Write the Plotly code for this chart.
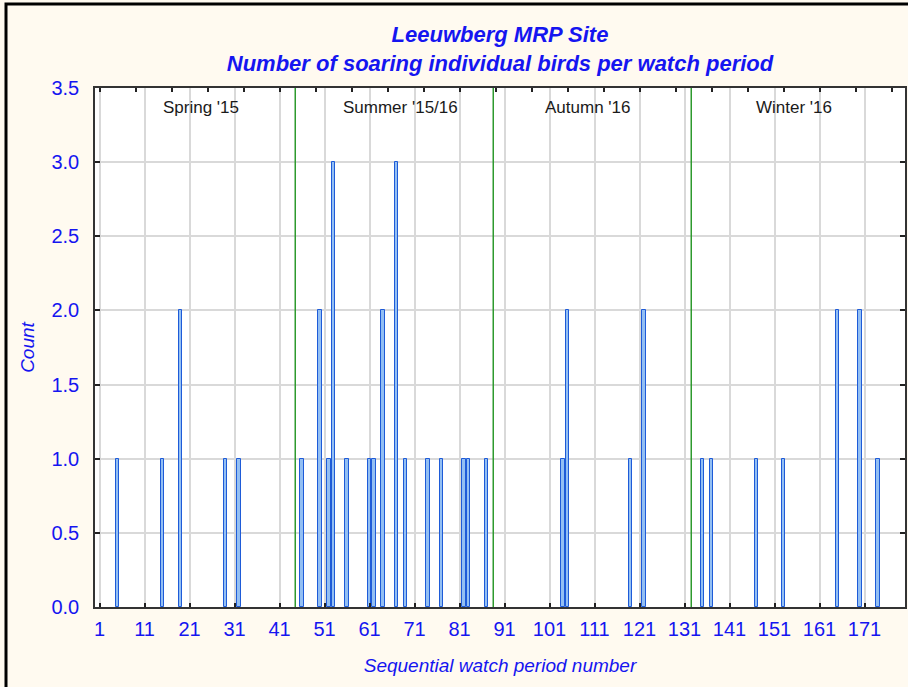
import plotly.graph_objects as go

# ---- data ----
periods = [5, 15, 19, 29, 32, 46, 50, 52, 53, 56, 61, 62, 64, 67, 69, 74, 77, 82, 83, 87,
           104, 105, 119, 122, 135, 137, 147, 153, 165, 170, 174]
counts = [1, 1, 2, 1, 1, 1, 2, 1, 3, 1, 1, 1, 2, 3, 1, 1, 1, 1, 1, 1,
          1, 2, 1, 2, 1, 1, 1, 1, 2, 2, 1]

season_names = ["Spring '15", "Summer '15/16", "Autumn '16", "Winter '16"]
season_label_x = [23.5, 67.8, 109.5, 155.4]
season_bounds = [44.5, 88.5, 132.5]

x_tick_labels = ["1", "11", "21", "31", "41", "51", "61", "71", "81", "91", "101", "111",
                 "121", "131", "141", "151", "161", "171"]
y_tick_values = [0.0, 0.5, 1.0, 1.5, 2.0, 2.5, 3.0, 3.5]

title_lines = ["Leeuwberg MRP Site", "Number of soaring individual birds per watch period"]
x_title = "Sequential watch period number"
y_title = "Count"

# ---- style ----
BLUE = "#1515F0"
BG = "#FFFAF0"
FONT = "Arial, Liberation Sans, sans-serif"
W, H = 908, 687
ML, MR, MT, MB = 95, 3, 88, 80
plot_w = W - ML - MR
plot_h = H - MT - MB

fig = go.Figure()
fig.add_trace(go.Bar(
    x=periods, y=counts, width=0.88,
    marker=dict(color="#93BFF3", line=dict(color="#1E5BD8", width=1)),
    showlegend=False,
))

# invisible trace to carry the top axis ticks
fig.add_trace(go.Scatter(x=[0, 180], y=[0, 0], xaxis="x2", mode="markers",
                         marker=dict(opacity=0), showlegend=False, hoverinfo="skip"))

shapes = []
for b in season_bounds:
    shapes.append(dict(type="line", xref="x", yref="paper", x0=b, x1=b, y0=0, y1=1,
                       line=dict(color="#2E9A2E", width=1.5), layer="above"))

# outer frame (left and top edges visible, the rest runs off the image)
fx0 = (6 - ML) / plot_w
fy1 = (H - MB - 4) / plot_h
shapes.append(dict(type="rect", xref="paper", yref="paper", x0=fx0, x1=1.2, y0=-0.5, y1=fy1,
                   line=dict(color="#000000", width=3), fillcolor="rgba(0,0,0,0)", layer="below"))

annotations = []
for name, xpos in zip(season_names, season_label_x):
    annotations.append(dict(x=xpos, y=3.37, xref="x", yref="y", text=name, showarrow=False,
                            font=dict(family=FONT, size=17, color="#1a1a1a")))

fig.update_layout(
    width=W, height=H,
    margin=dict(l=ML, r=MR, t=MT, b=MB, autoexpand=False),
    paper_bgcolor=BG,
    plot_bgcolor="#FFFFFF",
    bargap=0,
    title=dict(text="<b><i>" + title_lines[0] + "<br>" + title_lines[1] + "</i></b>",
               x=(ML + plot_w / 2) / W, xanchor="center", y=1 - 42 / H, yanchor="top",
               automargin=False,
               font=dict(family=FONT, size=22, color=BLUE)),
    xaxis=dict(
        range=[0, 180], automargin=False,
        tickvals=[int(t) for t in x_tick_labels], ticktext=x_tick_labels,
        ticks="inside", ticklen=4, tickcolor="#222", tickwidth=1.5,
        showgrid=True, gridcolor="#D9D9D9", gridwidth=1.5,
        showline=True, linecolor="#333333", linewidth=1.5, mirror=True,
        zeroline=False, ticklabelstandoff=3,
        tickfont=dict(family=FONT, size=20, color=BLUE),
        title=dict(text="<i>" + x_title + "</i>", standoff=20,
                   font=dict(family=FONT, size=19, color=BLUE)),
    ),
    xaxis2=dict(
        range=[0, 180], overlaying="x", side="top", tick0=1, dtick=8, automargin=False,
        ticks="inside", ticklen=4, tickcolor="#222", tickwidth=1.5,
        showticklabels=False, showgrid=False, zeroline=False, showline=False,
    ),
    yaxis=dict(
        range=[0, 3.5], automargin=False,
        tickvals=y_tick_values, tickformat=".1f",
        ticks="inside", ticklen=5, tickcolor="#222", tickwidth=1.5,
        showgrid=True, gridcolor="#D9D9D9", gridwidth=1.5,
        showline=True, linecolor="#333333", linewidth=1.5, mirror="ticks",
        zeroline=False, ticklabelstandoff=10,
        tickfont=dict(family=FONT, size=20, color=BLUE),
        title=dict(text="<i>" + y_title + "</i>", standoff=12,
                   font=dict(family=FONT, size=19, color=BLUE)),
    ),
    shapes=shapes,
    annotations=annotations,
)

fig.write_html(
    "out.html",
    config={"displayModeBar": False},
    post_script="document.body.style.margin='0';document.body.style.background='" + BG + "';",
)
